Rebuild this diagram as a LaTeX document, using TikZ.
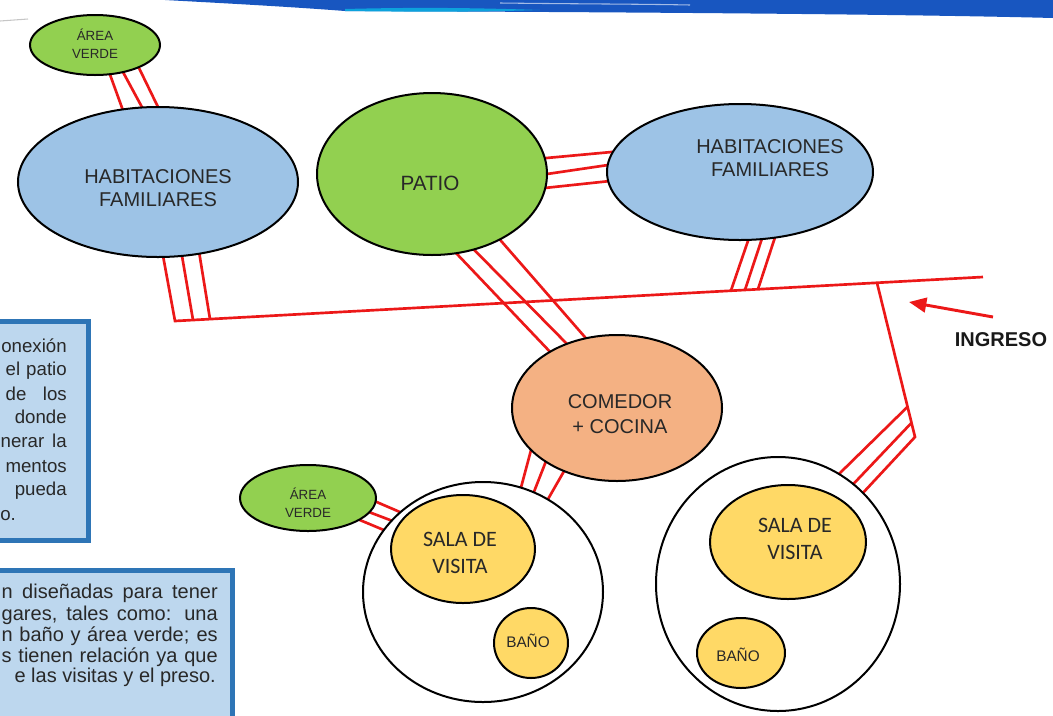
\documentclass[tikz,border=0pt]{standalone}
\usepackage{fontspec}
\setmainfont{Liberation Sans}
\newfontfamily\calib{Carlito}
\usetikzlibrary{calc,arrows.meta,shapes.geometric}
\pgfdeclarelayer{bg}
\pgfsetlayers{bg,main}
\definecolor{grn}{RGB}{146,208,80}
\definecolor{blu}{RGB}{157,195,230}
\definecolor{org}{RGB}{244,177,131}
\definecolor{yel}{RGB}{255,217,102}
\definecolor{rd}{RGB}{236,24,24}
\definecolor{boxfill}{RGB}{189,215,238}
\definecolor{boxline}{RGB}{46,117,182}
\definecolor{txt}{RGB}{40,40,40}
\definecolor{band}{RGB}{24,86,192}
\begin{document}
\begin{tikzpicture}[x=0.75pt,y=-0.75pt,
  elli/.style={ellipse,draw=black,line width=1.5pt,inner sep=0pt,outer sep=0pt},
  ew/.style={minimum width=#1*0.75pt},
  eh/.style={minimum height=#1*0.75pt},
  lbl/.style={text=txt,align=center,inner sep=0pt,font=\fontsize{15}{17.25}\selectfont},
  lblsm/.style={text=txt,align=center,inner sep=0pt,font=\fontsize{10}{13.5}\selectfont},
  lblsala/.style={text=txt,align=center,inner sep=0pt,font=\calib\fontsize{16.5}{20}\selectfont},
  lblbano/.style={text=txt,align=center,inner sep=0pt,font=\fontsize{11.5}{14}\selectfont},
  boxtxtA/.style={text=txt,inner sep=0pt,anchor=base east,font=\fontsize{14}{16}\selectfont},
  boxtxtB/.style={text=txt,inner sep=0pt,anchor=base east,font=\fontsize{15}{16}\selectfont},
  infobox/.style={draw=boxline,fill=boxfill,line width=3.75pt},
  conn/.style={draw=rd,line width=2pt},
]
\useasboundingbox (0,0) rectangle (1053,715);
\clip (0,0) rectangle (1053,715);

% top band
\fill[band] (165,0) -- (1053,0) -- (1053,18) .. controls (900,14) and (600,12) .. (345,11) .. controls (280,6) and (200,2) .. (165,0) -- cycle;
\fill[band!55!cyan] (345,9) .. controls (420,7) and (480,8) .. (540,10) .. controls (480,12) and (420,12) .. (345,11) -- cycle;
\draw[white!60!band,line width=0.8pt] (500,3) .. controls (580,4) and (640,4) .. (690,5);
\draw[gray!45,line width=0.8pt] (0,21) -- (28,19);

% info boxes
\draw[infobox] (-10,321) rectangle (88,540);
\draw[infobox] (-10,570) rectangle (232,740);

\node[boxtxtA] (a1) at (67,352) {onexión};
\node[boxtxtA] (a2) at (67,375) {\makebox[45.75pt][s]{el patio}};
\node[boxtxtA] (a3) at (67,400) {\makebox[45.75pt][s]{de los}};
\node[boxtxtA] (a4) at (67,423) {donde};
\node[boxtxtA] (a5) at (67,447) {\makebox[49.5pt][s]{nerar la}};
\node[boxtxtA] (a6) at (67,472) {mentos};
\node[boxtxtA] (a7) at (67,495) {pueda};
\node[boxtxtA,anchor=base west] (a8) at (0,520) {o.};

\node[boxtxtB] (b1) at (218,598) {\makebox[162pt][s]{n diseñadas para tener}};
\node[boxtxtB] (b2) at (218,620) {\makebox[162pt][s]{gares, tales como: una}};
\node[boxtxtB] (b3) at (218,641) {\makebox[162pt][s]{n baño y área verde; es}};
\node[boxtxtB] (b4) at (218,662) {\makebox[162pt][s]{s tienen relación ya que}};
\node[boxtxtB] (b5) at (216,682) {e las visitas y el preso.};

% shapes
\node[elli,fill=grn,ew=130,eh=60] (av1) at (95,45) {};
\node[elli,fill=blu,ew=280,eh=150] (hab1) at (158,182) {};
\node[elli,fill=grn,ew=230,eh=162] (patio) at (432,174) {};
\node[elli,fill=blu,ew=266,eh=136] (hab2) at (740,172) {};
\node[elli,fill=org,ew=210,eh=146] (comedor) at (617,408) {};
\node[elli,fill=white,ew=240,eh=220] (outerL) at (483,592) {};
\node[elli,fill=yel,ew=144,eh=108] (salaL) at (463,549) {};
\node[elli,fill=yel,ew=74,eh=70] (banoL) at (531,643) {};
\node[elli,fill=grn,ew=136,eh=66] (avL) at (308,498) {};
\node[elli,fill=white,ew=244,eh=254] (outerR) at (778,584) {};
\node[elli,fill=yel,ew=156,eh=114] (salaR) at (788,542) {};
\node[elli,fill=yel,ew=88,eh=70] (banoR) at (741,653) {};

% labels
\node[lblsm] (tav1) at (95,44) {ÁREA\\VERDE};
\node[lbl] (thab1) at (158,188.5) {HABITACIONES\\FAMILIARES};
\node[lbl,font=\fontsize{15.5}{18}\selectfont] (tpatio) at (430,183) {PATIO};
\node[lbl] (thab2) at (770,158.5) {HABITACIONES\\FAMILIARES};
\node[lbl,font=\fontsize{15}{18.75}\selectfont] (tcom) at (620,414.5) {COMEDOR\\+ COCINA};
\node[lblsala] (tsalaL) at (460,553) {SALA DE\\VISITA};
\node[lblsala] (tsalaR) at (795,539) {SALA DE\\VISITA};
\node[lblbano] (tbanoL) at (528,641) {BAÑO};
\node[lblbano] (tbanoR) at (738,655) {BAÑO};
\node[lblsm] (tavL) at (308,502.5) {ÁREA\\VERDE};
\node[text=black!90,inner sep=0pt,font=\bfseries\fontsize{15}{18}\selectfont] (ingreso) at (1001,340) {INGRESO};

% connectors
\coordinate (mL) at (175,321);
\coordinate (mR) at (983,277);
\coordinate (jR) at ($(mL)!0.8688!(mR)$);
\coordinate (jE) at (915,437);
\coordinate (arT) at (993,317);
\coordinate (arH) at (909,302);
\begin{pgfonlayer}{bg}
\draw[conn] (av1.-63.4) -- (hab1.116.6);
\draw[conn] (av1.-44) -- (hab1.102);
\draw[conn] (av1.-27.1) -- (hab1.90.7);

\draw[conn] (hab1.-86.2) -- (mL) -- (mR);
\draw[conn] (hab1.-72.5) -- ($(mL)!0.0223!(mR)$);
\draw[conn] (hab1.-60) -- ($(mL)!0.0433!(mR)$);

\draw[conn] (patio.-73.8) -- (comedor.140.4);
\draw[conn] (patio.-61) -- (comedor.128.2);
\draw[conn] (patio.-44.1) -- (comedor.114.6);

\draw[conn] (patio.8.1) -- (hab2.171);
\draw[conn] (patio.0.5) -- (hab2.177);
\draw[conn] (patio.-7) -- (hab2.-176.5);

\draw[conn] (hab2.-83.3) -- ($(mL)!0.688!(mR)$);
\draw[conn] (hab2.-72.6) -- ($(mL)!0.7054!(mR)$);
\draw[conn] (hab2.-62.4) -- ($(mL)!0.7215!(mR)$);

\draw[conn] (jR) -- (jE) -- (outerR.47.3);
\draw[conn] ($(jR)!0.804!(jE)$) -- (outerR.61);
\draw[conn] ($(jR)!0.908!(jE)$) -- (outerR.53);

\draw[conn] (comedor.-154) -- (outerL.70.7);
\draw[conn] (comedor.-143.8) -- (outerL.63.2);
\draw[conn] (comedor.-130.5) -- (outerL.55.8);

\draw[conn] (avL.-3.4) -- (outerL.136.4);
\draw[conn] (avL.-13.6) -- (outerL.142.5);
\draw[conn] (avL.-23.1) -- (outerL.148.3);

\draw[conn] (salaL.-64.8) -- (banoL.155.6);
\draw[conn] (salaL.-50.6) -- (banoL.135);
\draw[conn] (salaL.-38.5) -- (banoL.107.8);

\draw[conn] (salaR.-125.2) -- (banoR.88.4);
\draw[conn] (salaR.-112.3) -- (banoR.65.7);
\draw[conn] (salaR.-92.9) -- (banoR.44);
\end{pgfonlayer}
\draw[rd,line width=2.2pt,-{Triangle[length=13pt,width=11pt]}] (arT) -- (arH);
\end{tikzpicture}
\end{document}
